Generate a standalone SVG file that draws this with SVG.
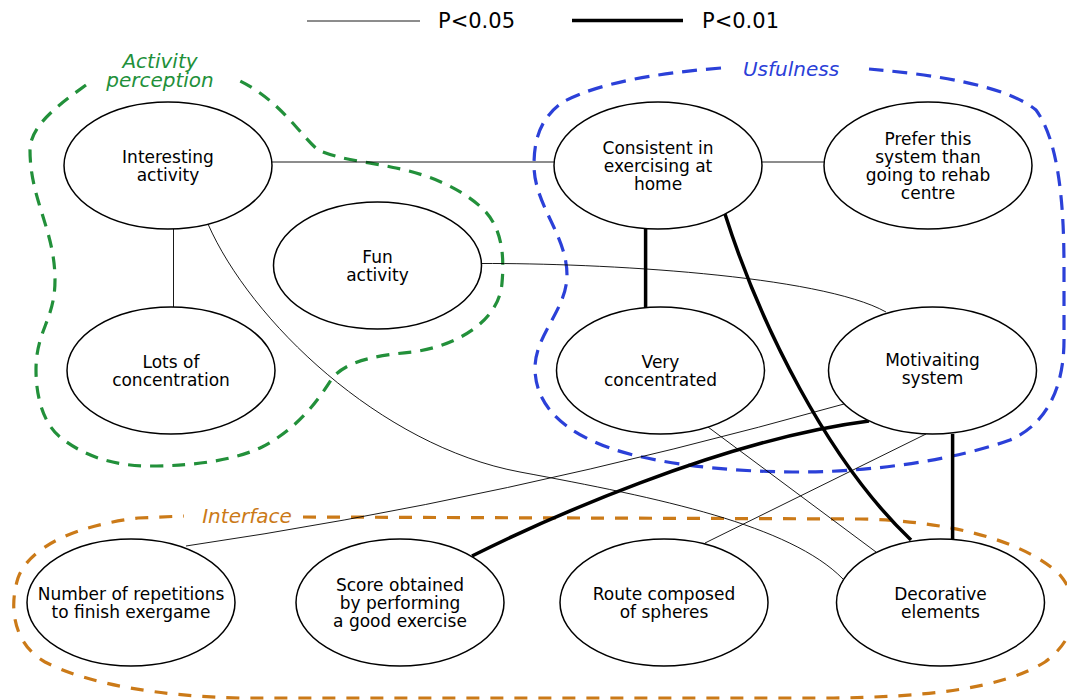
<svg xmlns="http://www.w3.org/2000/svg" width="1067" height="700" viewBox="0 0 1067 700">
<style>
  .node ellipse { fill: #fff; stroke: #000; stroke-width: 1.5; }
  .node text, .lg { font-family: "DejaVu Sans", Verdana, sans-serif; font-size: 17px; fill: #000; text-anchor: middle; }
  .lg { font-size: 21px; text-anchor: start; }
  .thin { fill: none; stroke: #000; stroke-width: 0.9; }
  .thick { fill: none; stroke: #000; stroke-width: 3.5; }
  .grp { fill: none; stroke-width: 3.2; }
  .glabel { font-family: "DejaVu Sans", Verdana, sans-serif; font-size: 20px; font-style: italic; text-anchor: middle; }
</style>
<rect width="1067" height="700" fill="#fff"/>

<g id="legend">
  <line x1="307" y1="21" x2="420" y2="21" class="thin"/>
  <text x="438" y="28" class="lg">P&lt;0.05</text>
  <line x1="572" y1="20.5" x2="683" y2="20.5" class="thick"/>
  <text x="702" y="28" class="lg">P&lt;0.01</text>
</g>

<g id="groups">
  <g id="grp-activity">
    <path class="grp" stroke="#22903a" stroke-dasharray="13 9" d="M86,85 C60,104 30,125 30,150 C30,200 55,230 55,280 C55,320 36,330 36,370 C36,400 45,425 60,437 C85,457 115,466 150,466 C195,466 235,460 262,447 C295,430 315,405 331,380 C345,360 380,355 413,352 C460,345 499,320 502,283 C505,250 500,225 482,208 C460,188 430,175 396,168 C370,162 340,160 318,150 C300,135 280,100 238,80"/>
    <text class="glabel" fill="#22903a" x="160" y="67.5">Activity</text>
    <text class="glabel" fill="#22903a" x="160" y="87">perception</text>
  </g>
  <g id="grp-usefulness">
    <path class="grp" stroke="#2b40d8" stroke-dasharray="15 9" d="M721,68 C660,73 600,82 563,102 C540,118 534,140 534,165 C534,205 567,235 567,275 C567,310 534,335 535,370 C536,400 555,425 597,443 C640,462 720,472 799,472 C880,472 960,458 1010,440 C1045,425 1064,390 1064,340 L1064,267 C1064,200 1058,140 1036,110 C1018,95 975,78 869,69"/>
    <text class="glabel" fill="#2b40d8" x="791" y="75.5">Usfulness</text>
  </g>
  <g id="grp-interface">
    <path class="grp" stroke="#cb7a18" stroke-dasharray="13 11" d="M303,517 L860,519 C960,521 1030,545 1060,575 C1085,605 1075,640 1045,662 C1000,690 920,697 834,698 L240,698 C160,696 90,685 45,662 C15,645 8,610 18,578 C30,545 80,525 138,518 L184,516"/>
    <text class="glabel" fill="#cb7a18" x="247" y="523">Interface</text>
  </g>
</g>

<g id="connectors">
  <line class="thin" x1="272" y1="162" x2="555" y2="162"/>
  <line class="thin" x1="762" y1="162" x2="824" y2="162"/>
  <line class="thin" x1="173.5" y1="229" x2="173.5" y2="307"/>
  <path class="thin" d="M481,263.5 C600,263 820,275 886,312"/>
  <path class="thin" d="M208,224 C250,320 380,446 520,472 C660,498 790,525 843,579"/>
  <path class="thin" d="M186,546 Q500,500 844,404"/>
  <line class="thin" x1="926" y1="434" x2="705" y2="543"/>
  <line class="thin" x1="708" y1="427" x2="876" y2="552"/>
  <line class="thick" x1="645.6" y1="229" x2="645.6" y2="307"/>
  <path class="thick" d="M725,214 C760,324 827,460 911,540"/>
  <line class="thick" x1="952.6" y1="434" x2="952.6" y2="539"/>
  <path class="thick" d="M472,556 C540,522 720,440 869,421"/>
</g>

<g id="n-interesting" class="node">
  <ellipse cx="168" cy="165.5" rx="104" ry="63.5"/>
  <text x="168" y="162.5">Interesting</text>
  <text x="168" y="180.5">activity</text>
</g>
<g id="n-fun" class="node">
  <ellipse cx="377.5" cy="265.5" rx="104" ry="63.5"/>
  <text x="377.5" y="262.5">Fun</text>
  <text x="377.5" y="280.5">activity</text>
</g>
<g id="n-lots" class="node">
  <ellipse cx="171" cy="370.5" rx="104" ry="63.5"/>
  <text x="171" y="367.5">Lots of</text>
  <text x="171" y="385.5">concentration</text>
</g>
<g id="n-consistent" class="node">
  <ellipse cx="658" cy="165.5" rx="104" ry="63.5"/>
  <text x="658" y="153.5">Consistent in</text>
  <text x="658" y="171.5">exercising at</text>
  <text x="658" y="189.5">home</text>
</g>
<g id="n-prefer" class="node">
  <ellipse cx="928" cy="165.5" rx="104" ry="63.5"/>
  <text x="928" y="144.5">Prefer this</text>
  <text x="928" y="162.5">system than</text>
  <text x="928" y="180.5">going to rehab</text>
  <text x="928" y="198.5">centre</text>
</g>
<g id="n-very" class="node">
  <ellipse cx="660.5" cy="370.5" rx="104" ry="63.5"/>
  <text x="660.5" y="367.5">Very</text>
  <text x="660.5" y="385.5">concentrated</text>
</g>
<g id="n-motivaiting" class="node">
  <ellipse cx="932.5" cy="370.5" rx="104" ry="63.5"/>
  <text x="932.5" y="366">Motivaiting</text>
  <text x="932.5" y="384">system</text>
</g>
<g id="n-number" class="node">
  <ellipse cx="131" cy="602.5" rx="104" ry="63.5"/>
  <text x="131" y="599.5">Number of repetitions</text>
  <text x="131" y="617.5">to finish exergame</text>
</g>
<g id="n-score" class="node">
  <ellipse cx="400" cy="602.5" rx="104" ry="63.5"/>
  <text x="400" y="590.5">Score obtained</text>
  <text x="400" y="608.5">by performing</text>
  <text x="400" y="626.5">a good exercise</text>
</g>
<g id="n-route" class="node">
  <ellipse cx="664" cy="602.5" rx="104" ry="63.5"/>
  <text x="664" y="599.5">Route composed</text>
  <text x="664" y="617.5">of spheres</text>
</g>
<g id="n-decorative" class="node">
  <ellipse cx="940.5" cy="602.5" rx="104" ry="63.5"/>
  <text x="940.5" y="599.5">Decorative</text>
  <text x="940.5" y="617.5">elements</text>
</g>
</svg>
